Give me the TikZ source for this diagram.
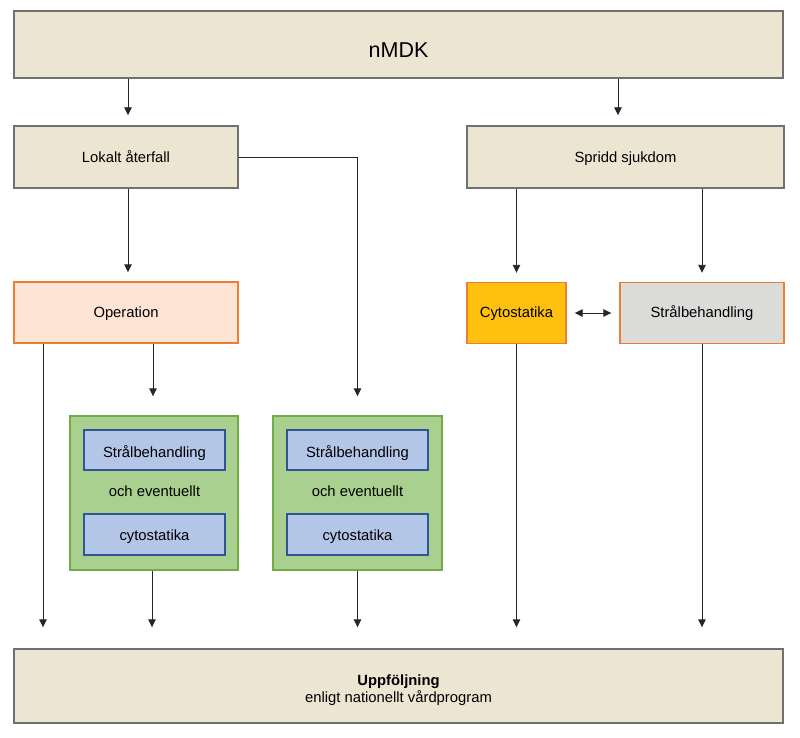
\documentclass[tikz,border=0pt]{standalone}
\usepackage{fontspec}
\setmainfont{Liberation Sans}
\usetikzlibrary{arrows.meta}
\definecolor{beige}{HTML}{ECE5D1}
\definecolor{beigeline}{HTML}{707070}
\definecolor{peach}{HTML}{FDE4D5}
\definecolor{orangeline}{HTML}{ED7D31}
\definecolor{greenfill}{HTML}{A9D08E}
\definecolor{greenline}{HTML}{70AD47}
\definecolor{bluefill}{HTML}{B4C6E7}
\definecolor{blueline}{HTML}{2F5597}
\definecolor{cytofill}{HTML}{FFC010}
\definecolor{grayfill}{HTML}{DBDCD9}
\definecolor{arrowcol}{HTML}{262626}
\tikzset{
  basebox/.style={rectangle, line width=1.4pt, inner sep=0pt, align=center,
    font=\fontsize{14.8}{17}\selectfont, text height=10pt, text depth=0pt},
  beigebox/.style={basebox, draw=beigeline, fill=beige},
  peachbox/.style={basebox, draw=orangeline, fill=peach},
  cytobox/.style={basebox, draw=orangeline, fill=cytofill},
  graybox/.style={basebox, draw=orangeline, fill=grayfill},
  greenbox/.style={basebox, draw=greenline, fill=greenfill},
  bluebox/.style={basebox, line width=1.2pt, draw=blueline, fill=bluefill},
  plaintext/.style={inner sep=0pt, font=\fontsize{14.8}{17}\selectfont, anchor=base},
  arr/.style={draw=arrowcol, line width=0.9pt, -{Triangle[length=8pt,width=7.5pt]}},
  dblarr/.style={draw=arrowcol, line width=0.9pt, {Triangle[length=8pt,width=7.5pt]}-{Triangle[length=8pt,width=7.5pt]}}
}
\begin{document}
\begin{tikzpicture}[x=1pt,y=-1pt]
\useasboundingbox (0,0) rectangle (800,738);
% boxes
\node[beigebox, minimum width=769pt, minimum height=67pt, font=\fontsize{21.5}{26}\selectfont, text height=25.5pt] (nmdk) at (398.5,44.5) {nMDK};
\node[beigebox, minimum width=224pt, minimum height=62pt, text height=12pt] (lok) at (126,157) {Lokalt återfall};
\node[beigebox, minimum width=317pt, minimum height=62pt, text height=12pt] (spr) at (625.5,157) {Spridd sjukdom};
\node[peachbox, minimum width=224pt, minimum height=61pt] (op) at (126,312.5) {Operation};
\node[cytobox, minimum width=99pt, minimum height=61pt, text height=9pt] (cyto) at (516.5,313) {Cytostatika};
\node[graybox, minimum width=164pt, minimum height=61pt, text height=8pt] (stral) at (702,313) {Strålbehandling};
\node[greenbox, minimum width=168pt, minimum height=154pt] (g1) at (154,493) {};
\node[bluebox, minimum width=141pt, minimum height=40pt, text height=14pt] (b1a) at (154.5,450) {Strålbehandling};
\node[bluebox, minimum width=141pt, minimum height=41pt, text height=11pt] (b1b) at (154.5,534.5) {cytostatika};
\node[plaintext] (t1) at (154.5,496.5) {och eventuellt};
\node[greenbox, minimum width=169pt, minimum height=154pt] (g2) at (357.5,493) {};
\node[bluebox, minimum width=141pt, minimum height=40pt, text height=14pt] (b2a) at (357.5,450) {Strålbehandling};
\node[bluebox, minimum width=141pt, minimum height=41pt, text height=11pt] (b2b) at (357.5,534.5) {cytostatika};
\node[plaintext] (t2) at (357.5,496.5) {och eventuellt};
\node[beigebox, minimum width=769pt, minimum height=74pt, text height=32pt, text depth=0pt] (up) at (398.5,686)
  {\textbf{Uppföljning}\\enligt nationellt vårdprogram};
% helper coordinates
\coordinate (lokin) at ([xshift=2pt]lok.north);
\coordinate (sprin) at ([xshift=-7.5pt]spr.north);
\coordinate (opl) at ([xshift=-83pt]op.south);
\coordinate (opr) at ([xshift=27pt]op.south);
% connectors
\draw[arr, shorten >=10pt] (nmdk.south -| lokin) -- (lokin);
\draw[arr, shorten >=10pt] (nmdk.south -| sprin) -- (sprin);
\draw[arr, shorten >=19pt] (lok.east) -- (lok.east -| g2.north) -- (g2.north);
\draw[arr, shorten >=9pt] (lok.south -| lokin) -- (op.north -| lokin);
\draw[arr, shorten >=9pt] (spr.south -| cyto.north) -- (cyto.north);
\draw[arr, shorten >=9pt] (spr.south -| stral.north) -- (stral.north);
\draw[dblarr, shorten <=8pt, shorten >=8pt] (cyto.east) -- (stral.west);
\draw[arr, shorten >=21pt] (opl) -- (opl |- up.north);
\draw[arr, shorten >=19pt] (opr) -- (opr |- g1.north);
\draw[arr, shorten >=21pt] ([xshift=-2pt]g1.south) -- ([xshift=-2pt]g1.south |- up.north);
\draw[arr, shorten >=21pt] (g2.south) -- (g2.south |- up.north);
\draw[arr, shorten >=21pt] (cyto.south) -- (cyto.south |- up.north);
\draw[arr, shorten >=21pt] (stral.south) -- (stral.south |- up.north);
\end{tikzpicture}
\end{document}
